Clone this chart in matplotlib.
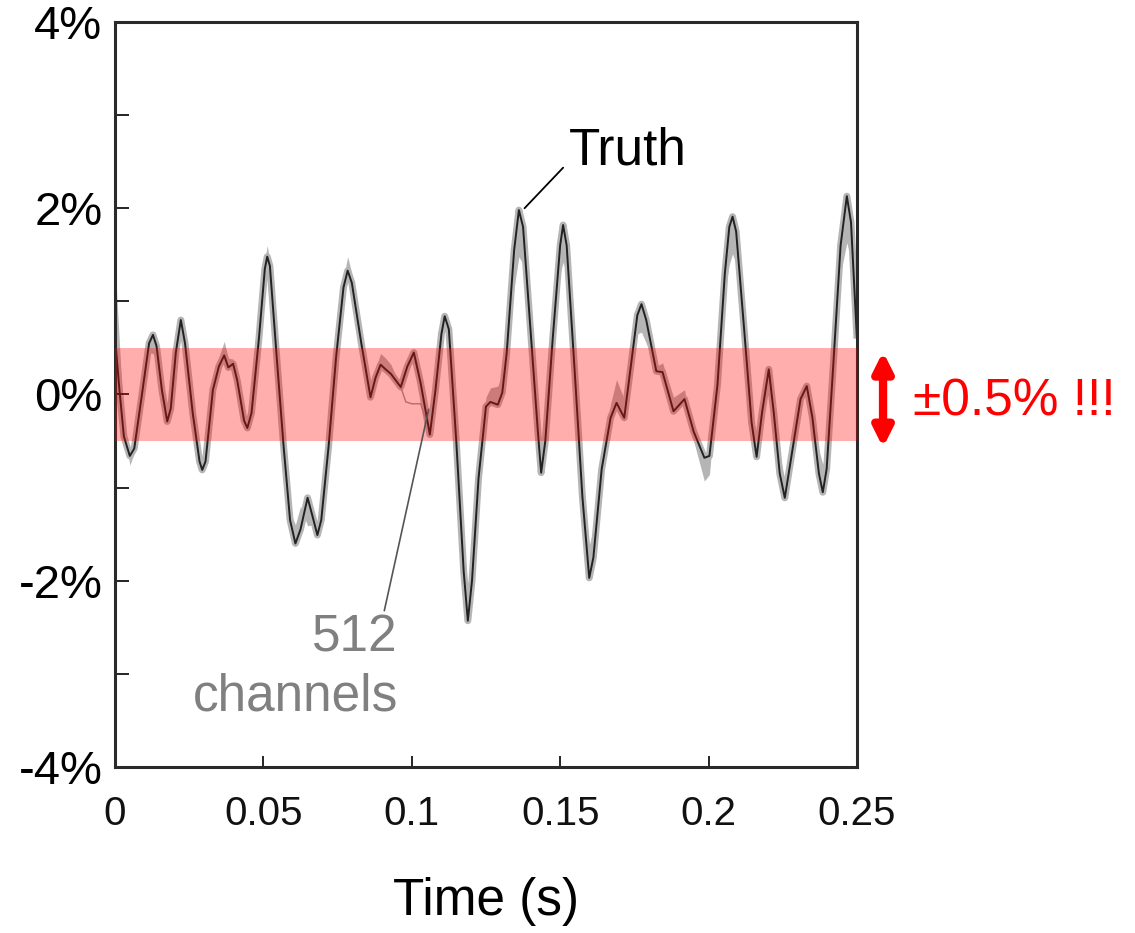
import numpy as np
import matplotlib
matplotlib.use('Agg')
import matplotlib.pyplot as plt
from matplotlib.ticker import FuncFormatter

# truth waveform (time in s, value in %)
t = [0.0000, 0.0015, 0.0030, 0.0050, 0.0065, 0.0090, 0.0115, 0.0128, 0.0140, 0.0158,
     0.0176, 0.0188, 0.0205, 0.0222, 0.0236, 0.0262, 0.0285, 0.0294, 0.0305, 0.0330,
     0.0350, 0.0368, 0.0382, 0.0398, 0.0412, 0.0435, 0.0446, 0.0460, 0.0485, 0.0505,
     0.0513, 0.0522, 0.0545, 0.0568, 0.0590, 0.0608, 0.0625, 0.0649, 0.0665, 0.0682,
     0.0695, 0.0720, 0.0745, 0.0770, 0.0784, 0.0798, 0.0830, 0.0861, 0.0878, 0.0895,
     0.0912, 0.0930, 0.0963, 0.0985, 0.1007, 0.1030, 0.1061, 0.1080, 0.1100, 0.1111,
     0.1125, 0.1150, 0.1175, 0.1189, 0.1203, 0.1225, 0.1250, 0.1265, 0.1290, 0.1305,
     0.1320, 0.1345, 0.1361, 0.1375, 0.1400, 0.1425, 0.1436, 0.1450, 0.1475, 0.1500,
     0.1510, 0.1522, 0.1550, 0.1575, 0.1598, 0.1612, 0.1640, 0.1670, 0.1690, 0.1716,
     0.1740, 0.1760, 0.1774, 0.1790, 0.1824, 0.1845, 0.1882, 0.1919, 0.1950, 0.1986,
     0.2003, 0.2030, 0.2055, 0.2070, 0.2081, 0.2093, 0.2120, 0.2145, 0.2162, 0.2180,
     0.2203, 0.2220, 0.2240, 0.2257, 0.2275, 0.2310, 0.2331, 0.2350, 0.2372, 0.2385,
     0.2398, 0.2420, 0.2445, 0.2466, 0.2480, 0.2500]
truth = [0.62, 0.05, -0.45, -0.66, -0.58, -0.02, 0.55, 0.64, 0.52, 0.05,
         -0.29, -0.15, 0.45, 0.80, 0.55, -0.20, -0.72, -0.81, -0.72, 0.05,
         0.30, 0.42, 0.29, 0.33, 0.15, -0.28, -0.36, -0.20, 0.60, 1.35,
         1.48, 1.38, 0.40, -0.55, -1.35, -1.60, -1.45, -1.11, -1.30, -1.51,
         -1.35, -0.55, 0.40, 1.15, 1.33, 1.20, 0.55, -0.03, 0.18, 0.32,
         0.27, 0.22, 0.08, 0.30, 0.45, 0.12, -0.43, 0.05, 0.65, 0.84,
         0.70, -0.50, -1.90, -2.43, -2.00, -0.90, -0.13, -0.08, -0.11, 0.02,
         0.45, 1.55, 1.98, 1.80, 0.70, -0.40, -0.84, -0.50, 0.60, 1.60,
         1.82, 1.60, 0.20, -1.10, -1.97, -1.75, -0.80, -0.25, -0.09, -0.25,
         0.35, 0.85, 0.97, 0.80, 0.25, 0.24, -0.18, -0.05, -0.40, -0.68,
         -0.66, 0.10, 1.30, 1.80, 1.91, 1.75, 0.70, -0.30, -0.67, -0.20,
         0.27, -0.20, -0.85, -1.11, -0.75, -0.05, 0.09, -0.25, -0.85, -1.05,
         -0.80, 0.30, 1.60, 2.13, 1.85, 0.60]
# how far the 512-channel envelope strays from the truth at each point
spread = [0.80, 0.50, 0.10, -0.10, -0.05, 0.00, -0.10, -0.20, -0.15, 0.00,
          0.05, 0.00, 0.00, -0.05, 0.00, 0.00, 0.05, 0.10, 0.10, 0.00,
          0.10, 0.15, 0.10, 0.05, 0.00, 0.00, 0.05, 0.00, 0.00, 0.10,
          0.12, 0.05, 0.00, 0.00, 0.10, 0.20, 0.25, -0.30, -0.10, 0.10,
          0.10, 0.00, 0.00, 0.10, 0.15, 0.10, 0.00, 0.05, 0.10, 0.12,
          0.12, 0.10, 0.00, 0.00, 0.05, 0.10, 0.15, 0.30, 0.10, 0.00,
          -0.05, 0.00, 0.10, 0.20, 0.15, 0.00, 0.10, 0.15, 0.20, 0.20,
          0.10, -0.40, -0.50, -0.40, 0.00, 0.05, 0.05, 0.05, 0.00, -0.30,
          -0.40, -0.30, 0.00, 0.20, 0.35, 0.30, 0.10, 0.15, 0.25, 0.20,
          0.10, -0.20, -0.30, -0.25, 0.05, 0.10, 0.15, 0.10, -0.10, -0.25,
          -0.20, 0.00, -0.20, -0.40, -0.40, -0.35, 0.00, 0.10, 0.25, 0.25,
          0.00, 0.15, 0.20, 0.20, 0.10, 0.00, 0.00, 0.10, 0.25, 0.30,
          0.20, 0.00, -0.30, -0.50, -0.40, 0.60]
# one stray channel that dips under the rest near 0.1 s
stray_t = [0.0963, 0.0980, 0.1000, 0.1030, 0.1050]
stray_v = [0.08, -0.08, -0.10, -0.10, -0.30]

band = 0.5
yticks = [-4, -3, -2, -1, 0, 1, 2, 3, 4]
xticks = [0, 0.05, 0.1, 0.15, 0.2, 0.25]
xticklabels = ['0', '0.05', '0.1', '0.15', '0.2', '0.25']

t = np.array(t)
truth = np.array(truth)
spread = np.array(spread)

plt.rcParams['font.family'] = ['Liberation Sans', 'DejaVu Sans']

fig = plt.figure(figsize=(11.35, 9.33), dpi=100)
ax = fig.add_axes([0.1013, 0.178, 0.6537, 0.7984])

# 512 channels (gray) under the truth (black)
ax.plot(t, truth, color='#b5b5b5', lw=5, zorder=1, solid_capstyle='butt')
ax.fill_between(t, truth, truth + spread, color='#b5b5b5', lw=0, zorder=1)
ax.plot(stray_t, stray_v, color='#9a9a9a', lw=1, zorder=1)
ax.plot(t, truth, color='#222222', lw=1.4, zorder=2)

# +-0.5 % band on top
ax.axhspan(-band, band, color='red', alpha=0.32, lw=0, zorder=3)

ax.set_xlim(0, 0.25)
ax.set_ylim(-4, 4)
ax.set_yticks(yticks)
ax.yaxis.set_major_formatter(FuncFormatter(lambda v, p: '%d%%' % v if int(v) % 2 == 0 else ''))
ax.set_xticks(xticks)
ax.set_xticklabels(xticklabels, fontsize=29, color='#111111')
ax.tick_params(axis='y', direction='in', length=10, width=1.2, labelsize=34, pad=9)
ax.tick_params(axis='x', direction='in', length=8, width=1.2, pad=20)
for s in ax.spines.values():
    s.set_linewidth(2.2)
    s.set_color('#2a2a2a')

ax.set_xlabel('Time (s)', fontsize=37, labelpad=32)

# annotations
ax.annotate('Truth', xy=(0.1380, 2.00), xytext=(0.1530, 2.62),
            fontsize=37, ha='left', va='center',
            arrowprops=dict(arrowstyle='-', color='black', lw=1.3, shrinkA=0, shrinkB=0,
                            relpos=(-0.05, 0.15)))
ax.annotate('512\nchannels', xy=(0.1057, -0.16), xytext=(0.0953, -2.93),
            fontsize=37, ha='right', va='center', multialignment='right',
            color='#808080', linespacing=1.25,
            arrowprops=dict(arrowstyle='-', color='#555555', lw=1.2, shrinkA=0, shrinkB=0,
                            relpos=(0.93, 0.99)))

ax.annotate('', xy=(0.2588, 0.46), xytext=(0.2588, -0.57), xycoords='data',
            annotation_clip=False,
            arrowprops=dict(arrowstyle='<|-|>', color='red', lw=6, mutation_scale=28,
                            shrinkA=0, shrinkB=0))
ax.text(0.2690, -0.08, '\u00b10.5% !!!', fontsize=37, color='red', va='center', ha='left',
        clip_on=False)

fig.savefig('out.png', dpi=100)
